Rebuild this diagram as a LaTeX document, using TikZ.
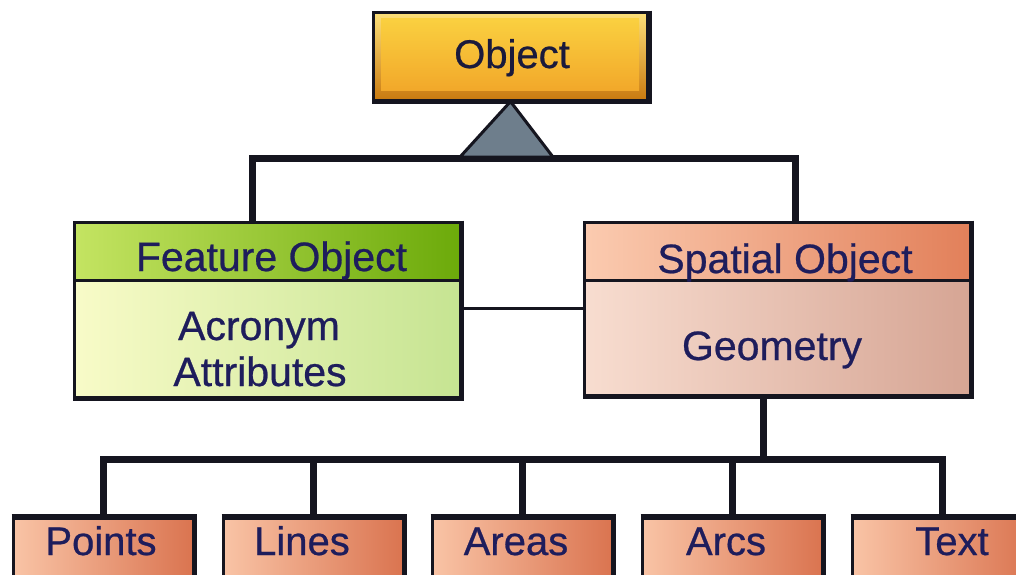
\documentclass[tikz,border=0pt]{standalone}
\usepackage{fontspec}
\setmainfont{Liberation Sans}
\newfontfamily\lblfont{Liberation Sans}[FakeBold=0.6]

\definecolor{edge}{HTML}{15151F}
\definecolor{ink}{HTML}{1E1D5C}
\definecolor{objInk}{HTML}{1A1A3C}
\definecolor{objTop}{HTML}{FDE07A}
\definecolor{objBot}{HTML}{C97A10}
\definecolor{objFaceTop}{HTML}{FAD040}
\definecolor{objFaceBot}{HTML}{F2A82A}
\definecolor{featHeadL}{HTML}{C4E462}
\definecolor{featHeadR}{HTML}{6CAA0A}
\definecolor{featBodyL}{HTML}{F8FBC8}
\definecolor{featBodyR}{HTML}{C6E492}
\definecolor{spatHeadL}{HTML}{FBCBB0}
\definecolor{spatHeadR}{HTML}{E2805A}
\definecolor{spatBodyL}{HTML}{F8DDD0}
\definecolor{spatBodyR}{HTML}{D6A594}
\definecolor{leafL}{HTML}{F9C4A6}
\definecolor{leafR}{HTML}{DA7450}
\definecolor{genFill}{HTML}{6E7E8C}

\begin{document}
\begin{tikzpicture}[x=1pt,y=-1pt,
  box/.style={rectangle, inner sep=0pt, draw=edge, line width=3pt},
  lbl/.style={anchor=base, inner sep=0pt, text=ink, font=\lblfont\fontsize{41}{46}\selectfont},
  leaflbl/.style={lbl, font=\lblfont\fontsize{40}{46}\selectfont},
  tree/.style={draw=edge, line width=7pt},
  assoc/.style={draw=edge, line width=3pt},
  heavy/.style={draw=edge, line width=4.5pt, line join=miter},
  leaf/.style={box, minimum width=180pt, minimum height=70pt,
               left color=leafL, right color=leafR}]
\useasboundingbox (0,0) rectangle (1016,574);
\clip (0,0) rectangle (1016,574);
\fill[white] (0,0) rectangle (1016,574);

% join points of the connector tree
\coordinate (gen)   at (506,157);
\coordinate (fjoin) at (252,158);
\coordinate (sjoin) at (795,158);
\coordinate (assocy) at (0,308);
\coordinate (trunk) at (763,459);

% top class with bevelled face
\node[box, minimum width=274pt, minimum height=88pt,
      top color=objTop, bottom color=objBot] (obj) at (510.5,56) {};
\fill[top color=objFaceTop, bottom color=objFaceBot]
  ([shift={(9,8)}]obj.north west) rectangle ([shift={(-10,-11)}]obj.south east);
\draw[edge, line width=5pt] (obj.north east) -- (obj.south east) -- (obj.south west);
\node[lbl, text=objInk, font=\lblfont\fontsize{40}{46}\selectfont] (objtxt) at (512,68) {Object};

% feature object class
\node[box, minimum width=386pt, minimum height=117pt,
      left color=featBodyL, right color=featBodyR] (featbody) at (267,338.5) {};
\node[box, minimum width=386pt, minimum height=58pt,
      left color=featHeadL, right color=featHeadR] (feathead) at (267,251) {};
\draw[heavy] (feathead.north east) -- (featbody.south east) -- (featbody.south west);
\node[lbl] (feattitle) at (271.5,271) {Feature Object};
\node[lbl] (featacr) at (259,340) {Acronym};
\node[lbl] (featatt) at (260,386) {Attributes};

% spatial object class
\node[box, minimum width=386pt, minimum height=115pt,
      left color=spatBodyL, right color=spatBodyR] (spatbody) at (777,337.5) {};
\node[box, minimum width=386pt, minimum height=58pt,
      left color=spatHeadL, right color=spatHeadR] (spathead) at (777,251) {};
\draw[heavy] (spathead.north east) -- (spatbody.south east) -- (spatbody.south west);
\node[lbl] (spattitle) at (785,273) {Spatial Object};
\node[lbl] (spatgeo) at (772,360) {Geometry};

% geometry kinds
\node[leaf] (points) at (103,553) {};
\node[leaf] (lines)  at (313,553) {};
\node[leaf] (areas)  at (522,553) {};
\node[leaf] (arcs)   at (732,553) {};
\node[leaf] (text)   at (942,553) {};
\foreach \n in {points,lines,areas,arcs,text}
  \draw[heavy] (\n.north west) -- (\n.north east) -- (\n.south east);
\node[leaflbl] (pointstxt) at (101,555) {Points};
\node[leaflbl] (linestxt)  at (302,555) {Lines};
\node[leaflbl] (areastxt)  at (516,555) {Areas};
\node[leaflbl] (arcstxt)   at (726,555) {Arcs};
\node[leaflbl] (texttxt)   at (952,555) {Text};

% generalisation tree from the top class
\draw[tree] (fjoin |- feathead.north) -- (fjoin) -- (sjoin) -- (sjoin |- spathead.north);
\draw[edge, line width=3pt, fill=genFill, line join=miter]
  (obj.south) -- ([xshift=-46]gen) -- ([xshift=47]gen) -- cycle;

% association between the two classes
\draw[assoc] (featbody.east |- assocy) -- (spatbody.west |- assocy);

% geometry tree
\draw[tree] (trunk |- spatbody.south) -- (trunk);
\draw[tree] (points.north) |- (trunk) -| (text.north);
\foreach \n in {lines,areas,arcs}
  \draw[tree] (\n.north) -- (\n.north |- trunk);
\end{tikzpicture}
\end{document}
